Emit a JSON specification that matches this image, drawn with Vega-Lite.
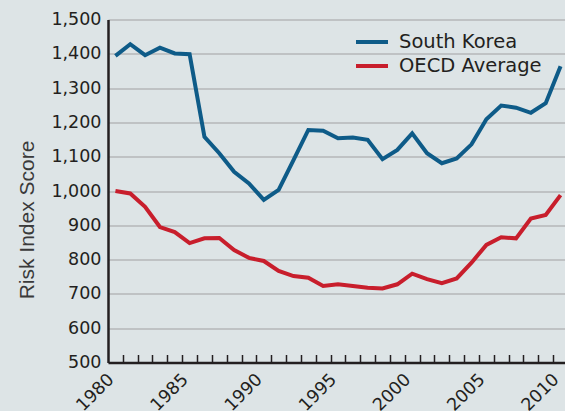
{
  "$schema": "https://vega.github.io/schema/vega-lite/v6.json",
  "autosize": "none",
  "width": 457,
  "height": 343,
  "padding": {"left": 108, "top": 19.5, "right": 0, "bottom": 48.5},
  "background": "#dde4e6",
  "config": {
    "view": {"stroke": null},
    "font": "DejaVu Sans"
  },
  "data": {
    "values": [
      {"year": 1980, "series": "South Korea", "score": 1394},
      {"year": 1981, "series": "South Korea", "score": 1428},
      {"year": 1982, "series": "South Korea", "score": 1396},
      {"year": 1983, "series": "South Korea", "score": 1418},
      {"year": 1984, "series": "South Korea", "score": 1401},
      {"year": 1985, "series": "South Korea", "score": 1399},
      {"year": 1986, "series": "South Korea", "score": 1158},
      {"year": 1987, "series": "South Korea", "score": 1110},
      {"year": 1988, "series": "South Korea", "score": 1056},
      {"year": 1989, "series": "South Korea", "score": 1022},
      {"year": 1990, "series": "South Korea", "score": 974},
      {"year": 1991, "series": "South Korea", "score": 1003},
      {"year": 1992, "series": "South Korea", "score": 1090},
      {"year": 1993, "series": "South Korea", "score": 1178},
      {"year": 1994, "series": "South Korea", "score": 1176},
      {"year": 1995, "series": "South Korea", "score": 1154},
      {"year": 1996, "series": "South Korea", "score": 1156},
      {"year": 1997, "series": "South Korea", "score": 1149},
      {"year": 1998, "series": "South Korea", "score": 1093},
      {"year": 1999, "series": "South Korea", "score": 1120},
      {"year": 2000, "series": "South Korea", "score": 1168},
      {"year": 2001, "series": "South Korea", "score": 1110},
      {"year": 2002, "series": "South Korea", "score": 1081},
      {"year": 2003, "series": "South Korea", "score": 1095},
      {"year": 2004, "series": "South Korea", "score": 1136},
      {"year": 2005, "series": "South Korea", "score": 1209},
      {"year": 2006, "series": "South Korea", "score": 1249},
      {"year": 2007, "series": "South Korea", "score": 1243},
      {"year": 2008, "series": "South Korea", "score": 1228},
      {"year": 2009, "series": "South Korea", "score": 1256},
      {"year": 2010, "series": "South Korea", "score": 1364},
      {"year": 1980, "series": "OECD Average", "score": 1000},
      {"year": 1981, "series": "OECD Average", "score": 993},
      {"year": 1982, "series": "OECD Average", "score": 954},
      {"year": 1983, "series": "OECD Average", "score": 895},
      {"year": 1984, "series": "OECD Average", "score": 880},
      {"year": 1985, "series": "OECD Average", "score": 848},
      {"year": 1986, "series": "OECD Average", "score": 862},
      {"year": 1987, "series": "OECD Average", "score": 863},
      {"year": 1988, "series": "OECD Average", "score": 828},
      {"year": 1989, "series": "OECD Average", "score": 805},
      {"year": 1990, "series": "OECD Average", "score": 796},
      {"year": 1991, "series": "OECD Average", "score": 767},
      {"year": 1992, "series": "OECD Average", "score": 752},
      {"year": 1993, "series": "OECD Average", "score": 747},
      {"year": 1994, "series": "OECD Average", "score": 723},
      {"year": 1995, "series": "OECD Average", "score": 728},
      {"year": 1996, "series": "OECD Average", "score": 723},
      {"year": 1997, "series": "OECD Average", "score": 718},
      {"year": 1998, "series": "OECD Average", "score": 716},
      {"year": 1999, "series": "OECD Average", "score": 728},
      {"year": 2000, "series": "OECD Average", "score": 759},
      {"year": 2001, "series": "OECD Average", "score": 743},
      {"year": 2002, "series": "OECD Average", "score": 731},
      {"year": 2003, "series": "OECD Average", "score": 745},
      {"year": 2004, "series": "OECD Average", "score": 791},
      {"year": 2005, "series": "OECD Average", "score": 843},
      {"year": 2006, "series": "OECD Average", "score": 865},
      {"year": 2007, "series": "OECD Average", "score": 862},
      {"year": 2008, "series": "OECD Average", "score": 920},
      {"year": 2009, "series": "OECD Average", "score": 930},
      {"year": 2010, "series": "OECD Average", "score": 988}
    ]
  },
  "mark": {"type": "line", "strokeWidth": 4, "clip": false},
  "encoding": {
    "x": {
      "field": "year",
      "type": "quantitative",
      "scale": {"domain": [1979.5, 2010.3], "nice": false, "zero": false},
      "axis": {
        "title": null,
        "values": [1980,1981,1982,1983,1984,1985,1986,1987,1988,1989,1990,1991,1992,1993,1994,1995,1996,1997,1998,1999,2000,2001,2002,2003,2004,2005,2006,2007,2008,2009,2010],
        "labelExpr": "datum.value % 5 === 0 ? datum.label : ''",
        "format": "d",
        "grid": false,
        "tickOffset": 7.4,
        "labelOffset": -12,
        "tickSize": -8,
        "tickColor": "#231f20",
        "tickWidth": 1.5,
        "domainColor": "#231f20",
        "domainWidth": 2.5,
        "labelAngle": -45,
        "labelAlign": "right",
        "labelBaseline": "middle",
        "labelPadding": 22,
        "labelFontSize": 17.5,
        "labelColor": "#231f20",
        "labelFlush": false,
        "labelOverlap": false
      }
    },
    "y": {
      "field": "score",
      "type": "quantitative",
      "scale": {"domain": [500, 1500], "nice": false, "zero": false},
      "axis": {
        "title": "Risk Index Score",
        "values": [500,600,700,800,900,1000,1100,1200,1300,1400,1500],
        "format": ",d",
        "ticks": false,
        "labelPadding": 7,
        "labelFontSize": 17.5,
        "labelColor": "#231f20",
        "domainColor": "#231f20",
        "domainWidth": 2.5,
        "gridColor": "#b5b7b8",
        "gridWidth": 1.5,
        "titleFont": "Liberation Sans",
        "titleFontSize": 21,
        "titleFontWeight": "normal",
        "titleColor": "#3a3a3a",
        "titleX": -81,
        "titleY": 200,
        "titleBaseline": "middle",
        "titleAlign": "center",
        "titleAngle": -90
      }
    },
    "color": {
      "field": "series",
      "type": "nominal",
      "scale": {"domain": ["South Korea", "OECD Average"], "range": ["#0e5b88", "#c81e2c"]},
      "legend": {
        "title": null,
        "orient": "none",
        "legendX": 246,
        "legendY": 11.5,
        "symbolType": "stroke",
        "symbolSize": 1024,
        "symbolStrokeWidth": 4,
        "clipHeight": 22,
        "rowPadding": 2,
        "labelOffset": 9,
        "labelFontSize": 19.5,
        "labelColor": "#231f20",
        "padding": 0
      }
    }
  }
}
